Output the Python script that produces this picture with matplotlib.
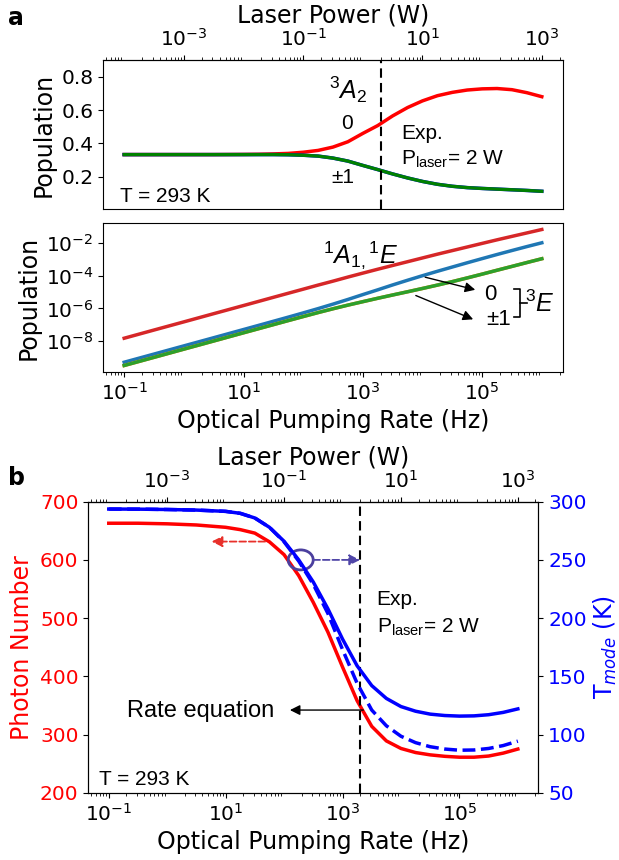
import numpy as np
import matplotlib
matplotlib.use('Agg')
import matplotlib.pyplot as plt
from matplotlib.ticker import LogLocator, NullLocator, NullFormatter
from matplotlib.patches import Ellipse
from matplotlib.lines import Line2D

plt.rcParams['font.family'] = ['DejaVu Sans']
plt.rcParams['mathtext.rm'] = 'Liberation Sans'
plt.rcParams['mathtext.it'] = 'Liberation Sans:italic'
plt.rcParams['mathtext.bf'] = 'Liberation Sans:bold'
plt.rcParams['mathtext.sf'] = 'Liberation Sans'

# ---------------- data ----------------
rate_hz = [0.1, 0.316, 1, 3.16, 10, 17.8, 31.6, 56.2, 100, 178, 316, 562, 1000,
           1778, 3162, 5623, 10000, 17783, 31623, 56234, 100000, 177828,
           316228, 562341, 1000000]

# panel a (top): ground state 3A2 populations
pop_3A2_ms0 = [0.333, 0.333, 0.333, 0.333, 0.334, 0.335, 0.337, 0.340, 0.347, 0.358,
               0.378, 0.41, 0.46, 0.507, 0.565, 0.615, 0.655, 0.686, 0.706, 0.72,
               0.727, 0.729, 0.722, 0.704, 0.68]
pop_3A2_ms1 = [0.333, 0.333, 0.333, 0.333, 0.333, 0.333, 0.333, 0.332, 0.329, 0.324,
               0.312, 0.294, 0.268, 0.243, 0.217, 0.193, 0.172, 0.155, 0.143, 0.135,
               0.130, 0.126, 0.122, 0.118, 0.113]

# panel a (bottom): singlet and excited triplet populations
pop_singlet = [1.51e-8, 4.79e-8, 1.51e-7, 4.79e-7, 1.51e-6, 2.69e-6, 4.79e-6, 8.51e-6,
               1.51e-5, 2.69e-5, 4.68e-5, 8.32e-5, 1.45e-4, 2.51e-4, 4.27e-4, 7.24e-4,
               1.23e-3, 2.09e-3, 3.47e-3, 5.75e-3, 9.55e-3, 1.58e-2, 2.57e-2, 4.17e-2,
               6.76e-2]
pop_3E_ms0 = [5.13e-10, 1.62e-9, 5.13e-9, 1.62e-8, 5.14e-8, 9.18e-8, 1.64e-7, 2.94e-7,
              5.33e-7, 9.79e-7, 1.84e-6, 3.55e-6, 7.06e-6, 1.38e-5, 2.75e-5, 5.32e-5,
              1.01e-4, 1.88e-4, 3.43e-4, 6.24e-4, 1.12e-3, 2.0e-3, 3.51e-3, 6.10e-3,
              1.04e-2]
pop_3E_ms1 = [3.24e-10, 1.02e-9, 3.24e-9, 1.02e-8, 3.24e-8, 5.75e-8, 1.02e-7, 1.81e-7,
              3.19e-7, 5.60e-7, 9.57e-7, 1.60e-6, 2.60e-6, 4.20e-6, 6.67e-6, 1.05e-5,
              1.67e-5, 2.68e-5, 4.39e-5, 7.38e-5, 1.26e-4, 2.18e-4, 3.74e-4, 6.44e-4,
              1.10e-3]

# panel b: photon number and mode temperature
photon_number = [663, 663, 662, 660, 656, 652, 646, 631, 609, 573, 527, 476, 416, 358,
                 314, 289, 276, 269, 265, 262.5, 261, 261, 263, 268, 275]
t_mode_rate_eq = [293.7, 293.6, 293.3, 292.8, 291.7, 290, 286, 278, 266, 250, 231, 208,
                  182, 159, 142, 131, 124, 120, 117.5, 116.3, 115.8, 116, 117, 119, 122]
t_mode_dashed = [293.7, 293.6, 293.3, 292.8, 291.7, 290, 286, 278, 265.5, 249, 229, 204,
                 173, 144, 121, 107.5, 98.5, 93, 89.5, 87.5, 86.5, 86.7, 88, 90.5, 94.3]

hz_per_watt = 1000.0
exp_power_w = 2.0
x_major_hz = [1e-1, 1e1, 1e3, 1e5]
x_major_w = [1e-3, 1e-1, 1e1, 1e3]


def hz_to_w(r):
    return np.asarray(r) / hz_per_watt


def w_to_hz(p):
    return np.asarray(p) * hz_per_watt


# ---------------- figure ----------------
W, H = 619, 860
fig = plt.figure(figsize=(W / 100, H / 100), dpi=100)


def box(l, t, r, b):
    return [l / W, 1 - b / H, (r - l) / W, (b - t) / H]


TICK = 14.5
LAB = 17
ANN = 'Liberation Sans'


def minor_log(axis):
    axis.set_minor_locator(LogLocator(base=10, subs=np.arange(2, 10), numticks=100))
    axis.set_minor_formatter(NullFormatter())


ax1 = fig.add_axes(box(103.3, 60, 562.7, 209.3))
ax2 = fig.add_axes(box(103.3, 222.7, 562.7, 372.3))
ax3 = fig.add_axes(box(88.3, 501.7, 538.3, 792.7))

# ---- panel a top ----
ax1.plot(rate_hz, pop_3A2_ms0, color='red', lw=2.5)
ax1.plot(rate_hz, pop_3A2_ms1, color='blue', lw=2.5)
ax1.plot(rate_hz, pop_3A2_ms1, color='green', lw=2.4)
ax1.set_xscale('log')
ax1.set_ylim(0.005, 0.9)
ax1.set_yticks([0.2, 0.4, 0.6, 0.8])
ax1.tick_params(axis='y', labelsize=TICK)
ax1.tick_params(axis='x', which='both', bottom=False, labelbottom=False)
ax1.set_ylabel('Population', fontsize=LAB)
ax1.axvline(exp_power_w * hz_per_watt, color='black', lw=1.5, ls=(0, (4.5, 2.5)))
sec1 = ax1.secondary_xaxis('top', functions=(hz_to_w, w_to_hz))
sec1.set_xticks(x_major_w)
minor_log(sec1.xaxis)
sec1.tick_params(labelsize=TICK)
sec1.set_xlabel('Laser Power (W)', fontsize=LAB)

ax1.text(0.533, 0.74, r'$^{3}A_{2}$', transform=ax1.transAxes, ha='center', va='baseline',
         fontsize=18, family=ANN, math_fontfamily='custom')
ax1.text(0.530, 0.576, '0', transform=ax1.transAxes, ha='center', va='center',
         fontsize=15, family=ANN)
ax1.text(0.521, 0.21, '±1', transform=ax1.transAxes, ha='center', va='center',
         fontsize=15, family=ANN)
ax1.text(0.649, 0.469, 'Exp.', transform=ax1.transAxes, ha='left', va='baseline',
         fontsize=15, family=ANN)
ax1.text(0.649, 0.297, r'P$_{\mathrm{laser}}$= 2 W', transform=ax1.transAxes, ha='left',
         va='baseline', fontsize=15, family=ANN, math_fontfamily='custom')
ax1.text(0.036, 0.051, 'T = 293 K', transform=ax1.transAxes, ha='left', va='baseline',
         fontsize=15, family=ANN)

# ---- panel a bottom ----
ax2.plot(rate_hz, pop_singlet, color='tab:red', lw=2.5)
ax2.plot(rate_hz, pop_3E_ms0, color='tab:blue', lw=2.5)
ax2.plot(rate_hz, pop_3E_ms1, color='tab:orange', lw=2.5)
ax2.plot(rate_hz, pop_3E_ms1, color='tab:green', lw=2.5)
ax2.set_xscale('log')
ax2.set_yscale('log')
ax2.set_yticks([1e-8, 1e-6, 1e-4, 1e-2])
ax2.yaxis.set_minor_locator(NullLocator())
ax2.set_xticks(x_major_hz)
minor_log(ax2.xaxis)
ax2.tick_params(labelsize=TICK)
ax2.set_ylabel('Population', fontsize=LAB)
ax2.set_xlabel('Optical Pumping Rate (Hz)', fontsize=LAB)

ax2.text(0.479, 0.729, r'$^{1}A_{1,}{}^{1}E$', transform=ax2.transAxes, ha='left',
         va='baseline', fontsize=18, family=ANN, math_fontfamily='custom')
ax2.annotate('', xy=(8.5e4, 1.26e-5), xytext=(1.0e4, 9.0e-5),
             arrowprops=dict(arrowstyle='-|>', color='black', lw=1.0, mutation_scale=15))
ax2.annotate('', xy=(7.8e4, 1.86e-7), xytext=(7.0e3, 7.2e-6),
             arrowprops=dict(arrowstyle='-|>', color='black', lw=1.0, mutation_scale=15))
ax2.text(0.842, 0.517, '0', transform=ax2.transAxes, ha='center', va='center',
         fontsize=16, family=ANN)
ax2.text(0.861, 0.35, '±1', transform=ax2.transAxes, ha='center', va='center',
         fontsize=16, family=ANN)
ax2.add_line(Line2D([0.894, 0.907, 0.907, 0.894], [0.557, 0.557, 0.370, 0.370],
                    transform=ax2.transAxes, color='black', lw=1.2))
ax2.add_line(Line2D([0.907, 0.922], [0.463, 0.463], transform=ax2.transAxes,
                    color='black', lw=1.2))
ax2.text(0.918, 0.404, r'$^{3}E$', transform=ax2.transAxes, ha='left', va='baseline',
         fontsize=18, family=ANN, math_fontfamily='custom')

# ---- panel b ----
axr = ax3.twinx()
ax3.plot(rate_hz, photon_number, color='red', lw=2.5)
axr.plot(rate_hz, t_mode_dashed, color='blue', lw=2.5, ls='--')
axr.plot(rate_hz, t_mode_rate_eq, color='blue', lw=2.5)
ax3.set_xscale('log')
ax3.set_ylim(200, 700)
axr.set_ylim(50, 300)
ax3.set_yticks([200, 300, 400, 500, 600, 700])
axr.set_yticks([50, 100, 150, 200, 250, 300])
ax3.set_xticks(x_major_hz)
minor_log(ax3.xaxis)
ax3.tick_params(labelsize=TICK)
ax3.tick_params(axis='y', labelcolor='red')
axr.tick_params(labelsize=TICK, labelcolor='blue')
ax3.set_ylabel('Photon Number', fontsize=LAB, color='red')
axr.set_ylabel(r'T$_{mode}$ (K)', fontsize=LAB, color='blue')
ax3.set_xlabel('Optical Pumping Rate (Hz)', fontsize=LAB)
ax3.axvline(exp_power_w * hz_per_watt, color='black', lw=1.5, ls=(0, (4.5, 2.5)))
sec3 = ax3.secondary_xaxis('top', functions=(hz_to_w, w_to_hz))
sec3.set_xticks(x_major_w)
minor_log(sec3.xaxis)
sec3.tick_params(labelsize=TICK)
sec3.set_xlabel('Laser Power (W)', fontsize=LAB)

axr.add_patch(Ellipse((0.472, 0.80), 0.0556, 0.0687, transform=axr.transAxes,
                      fill=False, edgecolor='#4b3f9e', lw=2))
axr.annotate('', xy=(0.604, 0.80), xytext=(0.50, 0.80), xycoords='axes fraction',
             textcoords='axes fraction',
             arrowprops=dict(arrowstyle='-|>', color='#5046a8', lw=1.3, ls='--',
                             mutation_scale=16, shrinkA=0, shrinkB=0))
axr.annotate('', xy=(0.274, 0.863), xytext=(0.393, 0.863), xycoords='axes fraction',
             textcoords='axes fraction',
             arrowprops=dict(arrowstyle='-|>', color='#e8302a', lw=1.3, ls='--',
                             mutation_scale=16, shrinkA=0, shrinkB=0))
axr.annotate('', xy=(0.448, 0.284), xytext=(0.611, 0.284), xycoords='axes fraction',
             textcoords='axes fraction',
             arrowprops=dict(arrowstyle='-|>', color='black', lw=1.0,
                             mutation_scale=15, shrinkA=0, shrinkB=0))
axr.text(0.085, 0.261, 'Rate equation', transform=axr.transAxes, ha='left', va='baseline',
         fontsize=17, family=ANN)
axr.text(0.641, 0.645, 'Exp.', transform=axr.transAxes, ha='left', va='baseline',
         fontsize=15, family=ANN)
axr.text(0.641, 0.551, r'P$_{\mathrm{laser}}$= 2 W', transform=axr.transAxes, ha='left',
         va='baseline', fontsize=15, family=ANN, math_fontfamily='custom')
axr.text(0.024, 0.026, 'T = 293 K', transform=axr.transAxes, ha='left', va='baseline',
         fontsize=15, family=ANN)

fig.text(8 / W, 1 - 25 / H, 'a', fontsize=17, fontweight='bold')
fig.text(8 / W, 1 - 485 / H, 'b', fontsize=17, fontweight='bold')

fig.savefig('out.png', dpi=100)
